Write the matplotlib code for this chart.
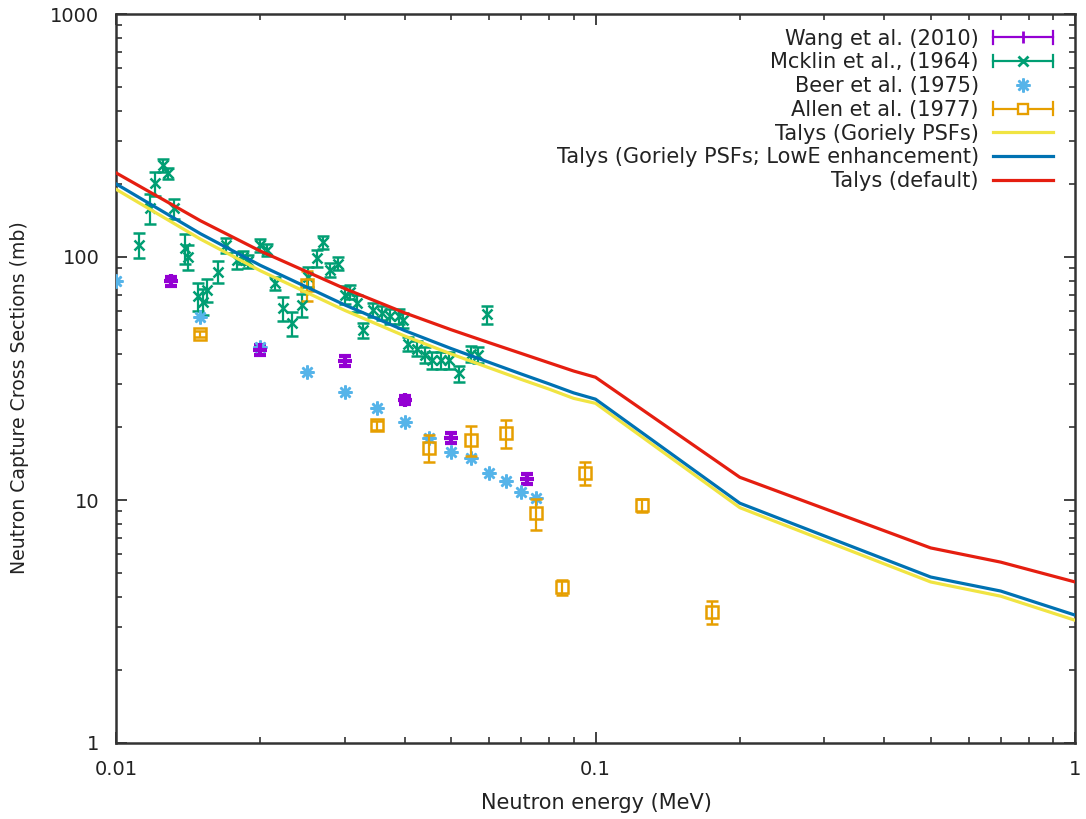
import matplotlib
matplotlib.use('Agg')
import matplotlib.pyplot as plt
from matplotlib.lines import Line2D
from matplotlib.legend_handler import HandlerBase
from matplotlib.ticker import FixedLocator, FixedFormatter, LogLocator, NullFormatter

# ---------------- data ----------------
wang_E = [0.013, 0.02, 0.03, 0.04, 0.05, 0.072]
wang_s = [79.6, 41.4, 37.3, 25.8, 18.0, 12.2]
wang_err = [3.5, 2.0, 1.8, 1.0, 0.8, 0.6]

mck_E = [0.01118, 0.01177, 0.01206, 0.01252, 0.01285, 0.0132, 0.01393, 0.0141,
         0.01485, 0.0152, 0.0155, 0.01635, 0.01696, 0.01785, 0.01843, 0.01886,
         0.01997, 0.02062, 0.02146, 0.0223, 0.0233, 0.0244, 0.0252, 0.0262,
         0.02706, 0.0279, 0.029, 0.030, 0.0307, 0.0318, 0.0328, 0.0344, 0.0358,
         0.0372, 0.039, 0.0397, 0.0407, 0.0424, 0.0441, 0.0455, 0.0477, 0.0496,
         0.052, 0.0549, 0.057, 0.0595]
mck_s = [112, 159, 201, 239, 221, 159, 109, 100,
         69, 65.5, 73, 87, 112, 97, 100, 96,
         112, 107, 78, 61.5, 53.5, 63.4, 83, 98.7,
         115, 88.4, 94, 70, 72, 64.5, 50, 60.5, 59,
         57, 57, 55, 44, 42, 39.5, 37.6, 37.6, 37.6,
         33.2, 40, 39.5, 58]
mck_err = [13, 22, 22, 15, 12, 15, 15, 12,
           9, 8, 8, 9, 8, 8, 6, 6,
           7, 6, 5, 7, 6, 7, 8, 8,
           7, 6, 6, 6, 5, 5, 3.5, 4, 4,
           4, 4, 4, 3, 3, 3, 3, 3, 3,
           2.5, 3, 3, 5]

beer_E = [0.01, 0.015, 0.02, 0.025, 0.03, 0.035, 0.04, 0.045, 0.05, 0.055,
          0.06, 0.065, 0.07, 0.075]
beer_s = [79.6, 56.6, 42.6, 33.6, 27.8, 23.9, 20.9, 18.0, 15.8, 14.9,
          12.9, 12.0, 10.8, 10.2]

allen_E = [0.015, 0.025, 0.035, 0.045, 0.055, 0.065, 0.075, 0.085, 0.095, 0.125, 0.175]
allen_s = [48.2, 76.7, 20.3, 16.4, 17.7, 18.9, 8.84, 4.38, 12.9, 9.53, 3.46]
allen_err = [1.2, 10.5, 0.8, 2.1, 2.5, 2.5, 1.3, 0.3, 1.4, 0.6, 0.37]

talys_E = [0.01, 0.015, 0.02, 0.03, 0.04, 0.05, 0.06, 0.07, 0.08, 0.09, 0.1,
           0.2, 0.5, 0.7, 1.0]
talys_goriely = [190, 118.5, 87.8, 60.3, 47.3, 39.9, 35.0, 31.35, 28.6, 26.2, 25.0,
                 9.3, 4.6, 4.02, 3.2]
talys_lowE = [200, 124.7, 92.4, 63.5, 49.8, 42.0, 36.85, 33.0, 30.06, 27.6, 26.0,
              9.7, 4.82, 4.22, 3.36]
talys_default = [222, 141, 105.8, 74.1, 58.9, 50.2, 44.4, 40.1, 36.7, 33.95, 32.0,
                 12.4, 6.35, 5.55, 4.6]

labels = ["Wang et al. (2010)", "Mcklin et al., (1964)", "Beer et al. (1975)",
          "Allen et al. (1977)", "Talys (Goriely PSFs)",
          "Talys (Goriely PSFs; LowE enhancement)", "Talys (default)"]
xticks = [0.01, 0.1, 1]
xticklabels = ["0.01", "0.1", "1"]
yticks = [1, 10, 100, 1000]
yticklabels = ["1", "10", "100", "1000"]

# ---------------- style ----------------
C_WANG = '#9400d3'
C_MCK = '#009e73'
C_BEER = '#56b4e9'
C_ALLEN = '#e69f00'
C_YEL = '#f0e442'
C_BLUE = '#0072b2'
C_RED = '#e51e10'
AXC = '#333333'
TXT = '#222222'

plt.rcParams['font.family'] = ['DejaVu Sans']

fig = plt.figure(figsize=(10.86, 8.19), dpi=100)
ax = fig.add_axes([116/1086, 76/819, 959/1086, 729/819])
ax.set_xscale('log')
ax.set_yscale('log')
ax.set_xlim(0.01, 1)
ax.set_ylim(1, 1000)

eb_kw = dict(ls='none', elinewidth=1.6, capthick=1.6, capsize=4.5)

ax.errorbar(wang_E, wang_s, yerr=wang_err, color=C_WANG, marker='+', ms=10, mew=3,
            zorder=3, **eb_kw)
ax.errorbar(mck_E, mck_s, yerr=mck_err, color=C_MCK, marker='x', ms=7, mew=1.8,
            zorder=3, **eb_kw)
ax.plot(beer_E, beer_s, ls='none', marker=(8, 2, 0), ms=10, mew=1.8, color=C_BEER,
        zorder=3)
ax.errorbar(allen_E, allen_s, yerr=allen_err, color=C_ALLEN, marker='s', ms=8.5,
            mew=1.8, mfc='none', zorder=3, **eb_kw)

ax.plot(talys_E, talys_goriely, color=C_YEL, lw=2.3, zorder=4)
ax.plot(talys_E, talys_lowE, color=C_BLUE, lw=2.3, zorder=5)
ax.plot(talys_E, talys_default, color=C_RED, lw=2.3, zorder=6)

# ticks
ax.xaxis.set_major_locator(FixedLocator(xticks))
ax.xaxis.set_major_formatter(FixedFormatter(xticklabels))
ax.yaxis.set_major_locator(FixedLocator(yticks))
ax.yaxis.set_major_formatter(FixedFormatter(yticklabels))
ax.xaxis.set_minor_locator(LogLocator(base=10, subs=range(2, 10)))
ax.yaxis.set_minor_locator(LogLocator(base=10, subs=range(2, 10)))
ax.xaxis.set_minor_formatter(NullFormatter())
ax.yaxis.set_minor_formatter(NullFormatter())
ax.tick_params(which='both', direction='in', top=True, right=True, color=AXC,
               labelcolor=TXT, labelsize=14)
ax.tick_params(which='major', length=8, width=1.3)
ax.tick_params(which='minor', length=4.5, width=1.2)
ax.tick_params(axis='x', pad=12)
ax.tick_params(axis='y', pad=12)
for s in ax.spines.values():
    s.set_color(AXC)
    s.set_linewidth(1.8)

fig.text(596/1086, 1 - 803/819, "Neutron energy (MeV)", ha='center', va='center',
         fontsize=15, color=TXT)
fig.text(20/1086, 1 - 398/819, "Neutron Capture Cross Sections (mb)", ha='center',
         va='center', rotation=90, fontsize=13.6, color=TXT)


# legend with gnuplot-like horizontal errorbar samples
class ErrHandler(HandlerBase):
    def __init__(self, color, marker=None, ms=0, mfc=None, mew=1.5, bars=True,
                 lw=1.6, cap=4.5, line=False):
        super().__init__()
        self.c, self.marker, self.ms, self.mfc, self.mew = color, marker, ms, mfc, mew
        self.bars, self.lw, self.cap, self.line = bars, lw, cap, line

    def create_artists(self, legend, orig_handle, xdescent, ydescent, width,
                       height, fontsize, trans):
        y = 0.5 * height - ydescent
        x0, x1 = -xdescent, width - xdescent
        xm = 0.5 * (x0 + x1)
        arts = []
        if self.bars or self.line:
            arts.append(Line2D([x0, x1], [y, y], color=self.c, lw=self.lw))
        if self.bars:
            arts.append(Line2D([x0, x0], [y - self.cap, y + self.cap], color=self.c, lw=self.lw))
            arts.append(Line2D([x1, x1], [y - self.cap, y + self.cap], color=self.c, lw=self.lw))
        if self.marker is not None:
            arts.append(Line2D([xm], [y], marker=self.marker, ms=self.ms,
                               mfc=self.mfc if self.mfc else self.c, mec=self.c,
                               mew=self.mew, ls='none'))
        for a in arts:
            a.set_transform(trans)
        return arts


handles = [Line2D([], []) for _ in labels]
hmap = {
    handles[0]: ErrHandler(C_WANG, marker='|', ms=9, mew=2),
    handles[1]: ErrHandler(C_MCK, marker='x', ms=7, mew=2),
    handles[2]: ErrHandler(C_BEER, marker=(8, 2, 0), ms=10, mew=1.8, bars=False),
    handles[3]: ErrHandler(C_ALLEN, marker='s', ms=7.5, mew=1.7, mfc='white'),
    handles[4]: ErrHandler(C_YEL, bars=False, line=True, lw=2.3),
    handles[5]: ErrHandler(C_BLUE, bars=False, line=True, lw=2.3),
    handles[6]: ErrHandler(C_RED, bars=False, line=True, lw=2.3),
}
leg = ax.legend(handles, labels, handler_map=hmap, loc='upper right',
                bbox_to_anchor=(0.977, 0.98), frameon=False, markerfirst=False,
                handlelength=2.9, handletextpad=0.65, labelspacing=0.18,
                borderpad=0, borderaxespad=0, fontsize=15)
for t in leg.get_texts():
    t.set_color(TXT)

fig.savefig('out.png', dpi=100)
